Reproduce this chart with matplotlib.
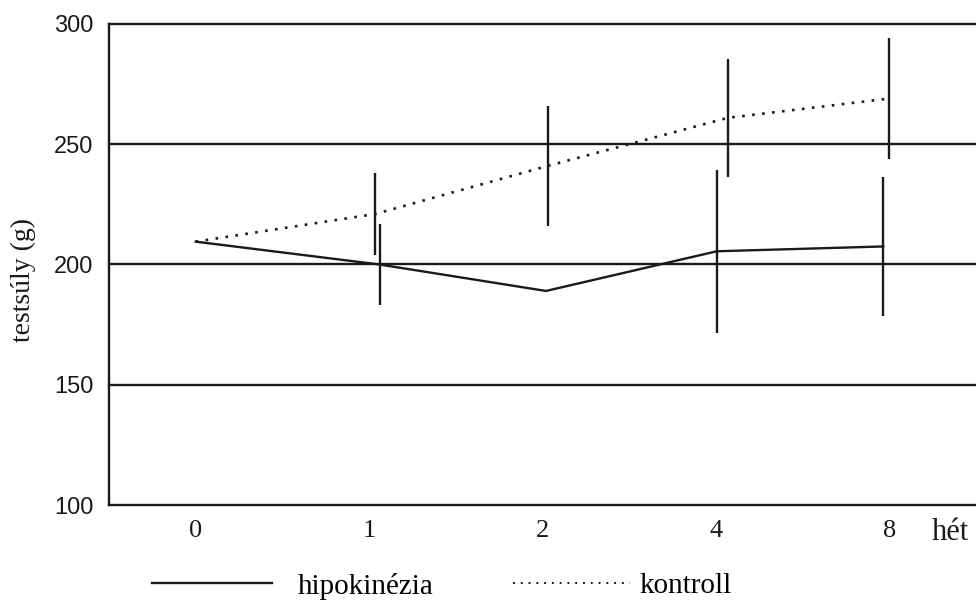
import matplotlib
matplotlib.use("Agg")
import matplotlib.pyplot as plt
from matplotlib.lines import Line2D
import numpy as np

plt.rcParams['font.family'] = ['Liberation Serif', 'DejaVu Serif']

# ---- data ----
weeks = ["0", "1", "2", "4", "8"]
hipo_mean = [209.5, 200, 189, 205.5, 207.5]
hipo_err = [0, 17, 0, 34, 29]
ctrl_mean = [209.5, 221, 241, 261, 269]
ctrl_err = [0, 17, 25, 24.5, 25]
yticks = [100, 150, 200, 250, 300]
series_names = ["hipokinézia", "kontroll"]

# small horizontal offsets of the points (layout only)
hipo_dx = [0.0, 0.06, 0.02, 0.005, -0.035]
ctrl_dx = [0.0, 0.035, 0.03, 0.07, 0.0]

ink = '#1a1a1a'
fig = plt.figure(figsize=(9.76, 6.03), dpi=100)
ax = fig.add_axes([109/976, 1-505/603, 1-109/976, (505-24)/603])

x = np.arange(len(weeks))
xh = x + np.array(hipo_dx)
xc = x + np.array(ctrl_dx)

lw = 1.7
for yv in yticks[1:]:
    ax.axhline(yv, color=ink, lw=lw, zorder=1, clip_on=False)

ax.plot(xh, hipo_mean, color=ink, lw=lw, zorder=3)
ax.plot(xc, ctrl_mean, color=ink, lw=1.9, linestyle=(0, (1, 2.8)), zorder=3)

for xi, m, e in zip(xh, hipo_mean, hipo_err):
    if e > 0:
        ax.vlines(xi, m - e, m + e, color=ink, lw=lw, zorder=4)
for xi, m, e in zip(xc, ctrl_mean, ctrl_err):
    if e > 0:
        ax.vlines(xi, m - e, m + e, color=ink, lw=lw, zorder=4)

ax.set_xlim(-0.5, 4.5)
ax.set_ylim(100, 300)
ax.set_xticks(x)
ax.set_xticklabels(weeks)
ax.set_yticks(yticks)
ax.tick_params(axis='both', length=0, colors=ink)
ax.tick_params(axis='y', pad=11, labelsize=17)
ax.tick_params(axis='x', pad=11, labelsize=19)
for lab in ax.get_yticklabels():
    lab.set_family(['Liberation Sans', 'DejaVu Sans'])
for s in ['top', 'right']:
    ax.spines[s].set_visible(False)
for s in ['left', 'bottom']:
    ax.spines[s].set_linewidth(lw)
    ax.spines[s].set_color(ink)

ax.set_ylabel("testsúly (g)", fontsize=20, color=ink)
ax.yaxis.label.set_position((0, 1 - (280-24)/(505-24)))
ax.yaxis.labelpad = 13
ax.text(950/976, 1-533/603, "hét", transform=fig.transFigure, ha='center', va='center',
        fontsize=22, color=ink)

# legend: two single-entry legends to mimic the printed spacing
h1 = Line2D([], [], color=ink, lw=lw)
h2 = Line2D([], [], color=ink, lw=1.4, linestyle=(0, (1, 3.0)))
fig.legend([h1], [series_names[0]], loc='center left',
           bbox_to_anchor=(152/976, 1-586/603), frameon=False, borderpad=0,
           borderaxespad=0, fontsize=21, handlelength=4.1, handletextpad=0.9)
fig.legend([h2], [series_names[1]], loc='center left',
           bbox_to_anchor=(513/976, 1-586/603), frameon=False, borderpad=0,
           borderaxespad=0, fontsize=21, handlelength=4.0, handletextpad=0.35)

fig.savefig("out.png", dpi=100, facecolor='white')
